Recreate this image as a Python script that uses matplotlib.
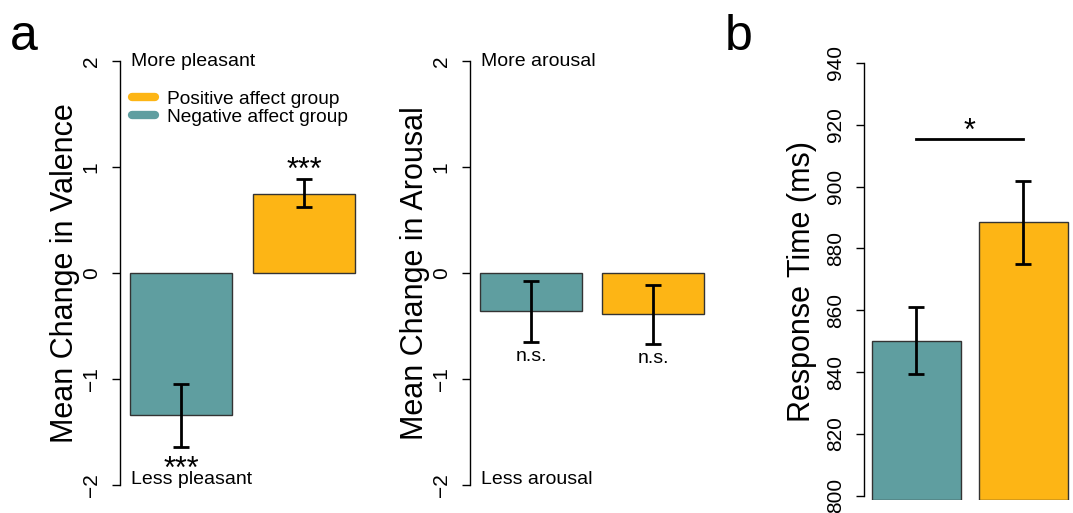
import matplotlib.pyplot as plt
from matplotlib.lines import Line2D

plt.rcParams['font.family'] = ['Liberation Sans', 'DejaVu Sans']

# Farben der Gruppen
teal = "#5f9ea0"
orange = "#fdb515"

groups = ["Negative affect group", "Positive affect group"]

# Panel a: Valenz
valence_mean = [-1.34, 0.75]
valence_lo = [-1.64, 0.62]
valence_hi = [-1.05, 0.89]
valence_sig = ["***", "***"]

# Panel a: Arousal
arousal_mean = [-0.36, -0.39]
arousal_lo = [-0.65, -0.67]
arousal_hi = [-0.08, -0.11]
arousal_sig = ["n.s.", "n.s."]

# Panel b: Reaktionszeit
rt_mean = [850.2, 888.4]
rt_lo = [839.5, 875.0]
rt_hi = [861.1, 901.7]
rt_sig = "*"
rt_sig_y = 915.5

change_ticks = [-2, -1, 0, 1, 2]
rt_ticks = [800, 820, 840, 860, 880, 900, 920, 940]

W, H = 1073, 513
fig = plt.figure(figsize=(W / 100, H / 100), dpi=100)


def px_axes(left, top, right, bottom):
    """ legt Achse ueber Pixelkoordinaten an """
    return fig.add_axes([left / W, 1 - bottom / H, (right - left) / W, (bottom - top) / H])


def style_axis(ax, ticks):
    """ R-artige Achse: nur linke Linie, gedrehte Beschriftung """
    for s in ["top", "right", "bottom"]:
        ax.spines[s].set_visible(False)
    ax.spines["left"].set_bounds(ticks[0], ticks[-1])
    ax.spines["left"].set_linewidth(1.0)
    ax.set_xticks([])
    ax.set_yticks(ticks)
    ax.set_yticklabels([str(t).replace("-", "\u2212") for t in ticks])
    ax.tick_params(axis="y", length=5.8, width=1.0, pad=8, labelsize=15, labelrotation=90)
    for lab in ax.get_yticklabels():
        lab.set_va("center")


def draw_bars(ax, mean, lo, hi, width):
    x = range(len(mean))
    colors = [teal, orange]
    ax.bar(x, mean, width=width, color=colors, edgecolor="#333333", linewidth=1.0)
    err = [[m - l for m, l in zip(mean, lo)], [h - m for m, h in zip(mean, hi)]]
    ax.errorbar(x, mean, yerr=err, fmt="none", ecolor="black", elinewidth=2,
                capsize=6, capthick=2)


# --- Valenz ---
ax1 = px_axes(120, 61, 365, 485)
draw_bars(ax1, valence_mean, valence_lo, valence_hi, 0.83)
ax1.set_xlim(-0.496, 1.496)
ax1.set_ylim(-2, 2)
style_axis(ax1, change_ticks)
ax1.set_ylabel("Mean Change in Valence", fontsize=22)
ax1.yaxis.set_label_coords(-0.163, 0.5)
ax1.text(-0.41, 2, "More pleasant", fontsize=14, va="center", ha="left")
ax1.text(-0.41, -1.95, "Less pleasant", fontsize=14, va="center", ha="left")
ax1.text(1, valence_hi[1] - 0.07, valence_sig[1], fontsize=22, ha="center", va="bottom")
ax1.text(0, valence_lo[0] - 0.08, valence_sig[0], fontsize=22, ha="center", va="top")
handles = [Line2D([], [], color=orange, lw=6, solid_capstyle="round"),
           Line2D([], [], color=teal, lw=6, solid_capstyle="round")]
ax1.legend(handles, [groups[1], groups[0]], loc="upper left", bbox_to_anchor=(0.047, 0.93),
           frameon=False, fontsize=13.8, handlelength=1.25, handletextpad=0.6,
           labelspacing=0.0, borderpad=0, borderaxespad=0)
fig.text(10 / W, 1 - 37 / H, "a", fontsize=36, va="center", ha="left")

# --- Arousal ---
ax2 = px_axes(470, 61, 715, 485)
draw_bars(ax2, arousal_mean, arousal_lo, arousal_hi, 0.83)
ax2.set_xlim(-0.5, 1.508)
ax2.set_ylim(-2, 2)
style_axis(ax2, change_ticks)
ax2.set_ylabel("Mean Change in Arousal", fontsize=22)
ax2.yaxis.set_label_coords(-0.163, 0.5)
ax2.text(-0.41, 2, "More arousal", fontsize=14, va="center", ha="left")
ax2.text(-0.41, -1.95, "Less arousal", fontsize=14, va="center", ha="left")
for i in range(2):
    ax2.text(i, arousal_lo[i] - 0.06, arousal_sig[i], fontsize=14, ha="center", va="top")

# --- Reaktionszeit ---
rt_floor = 798.6
ax3 = px_axes(864, 63, 1070, 500)
draw_bars(ax3, [m - rt_floor for m in rt_mean], [l - rt_floor for l in rt_lo],
          [h - rt_floor for h in rt_hi], 0.83)
for p in ax3.patches:
    p.set_y(rt_floor)
for c in ax3.collections:
    segs = [[(x, y + rt_floor) for x, y in s] for s in c.get_segments()]
    c.set_segments(segs)
for ln in ax3.lines:
    ln.set_ydata([y + rt_floor for y in ln.get_ydata()])
ax3.set_xlim(-0.49, 1.435)
ax3.set_ylim(rt_floor, 940)
style_axis(ax3, rt_ticks)
ax3.set_ylabel("Response Time (ms)", fontsize=22)
ax3.yaxis.set_label_coords(-0.229, 0.5)
ax3.plot([0, 1], [rt_sig_y, rt_sig_y], color="black", lw=2)
ax3.text(0.5, rt_sig_y - 2.5, rt_sig, fontsize=22, ha="center", va="bottom")
fig.text(725 / W, 1 - 37 / H, "b", fontsize=36, va="center", ha="left")

fig.savefig("out.png", dpi=100)
